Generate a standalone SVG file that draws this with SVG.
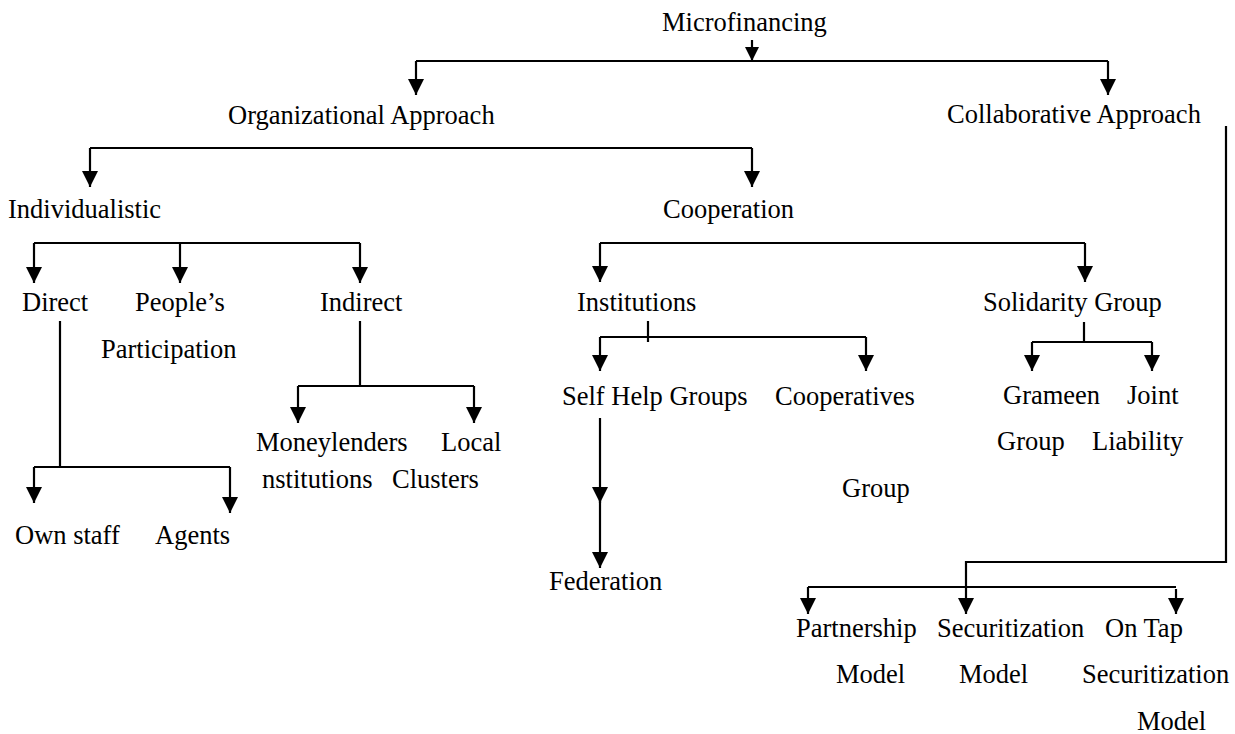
<svg xmlns="http://www.w3.org/2000/svg" width="1235" height="734" viewBox="0 0 1235 734">
<style>
text { font-family: "Liberation Serif", "Times New Roman", serif; font-size: 26.5px; fill: #000; }
.c { fill: none; stroke: #000; stroke-width: 2.2; }
.a { marker-end: url(#ah); }
.s { marker-end: url(#ahs); }
</style>
<defs>
<marker id="ah" markerUnits="userSpaceOnUse" markerWidth="16" markerHeight="16" refX="16" refY="8" orient="auto" viewBox="0 0 16 16">
<path d="M0,0 L16,8 L0,16 z" fill="#000"/>
</marker>
<marker id="ahs" markerUnits="userSpaceOnUse" markerWidth="14" markerHeight="14" refX="14" refY="7" orient="auto" viewBox="0 0 14 14">
<path d="M0,0 L14,7 L0,14 z" fill="#000"/>
</marker>
</defs>
<rect width="1235" height="734" fill="#fff"/>
<g id="connectors">
<path class="c s" d="M752,40 V61"/>
<path class="c" d="M416,61 H1108"/>
<path class="c a" d="M416,61 V95"/>
<path class="c a" d="M1108,61 V95"/>
<path class="c" d="M90,148 H752"/>
<path class="c a" d="M90,148 V187"/>
<path class="c a" d="M752,148 V187"/>
<path class="c" d="M34,243 H360"/>
<path class="c a" d="M34,243 V283"/>
<path class="c a" d="M180,243 V283"/>
<path class="c a" d="M360,243 V283"/>
<path class="c" d="M600,243 H1085"/>
<path class="c a" d="M600,243 V282"/>
<path class="c a" d="M1085,243 V282"/>
<path class="c" d="M60,321 V467 M34,467 H230"/>
<path class="c a" d="M34,467 V503"/>
<path class="c a" d="M230,467 V513"/>
<path class="c" d="M360,321 V386 M298,386 H474"/>
<path class="c a" d="M298,386 V423"/>
<path class="c a" d="M474,386 V423"/>
<path class="c" d="M648,321 V342 M600,337 H866"/>
<path class="c a" d="M600,337 V371"/>
<path class="c a" d="M866,337 V371"/>
<path class="c a" d="M600,418 V503"/>
<path class="c a" d="M600,500 V568"/>
<path class="c" d="M1084,322 V342 M1032,342 H1152"/>
<path class="c a" d="M1032,342 V371"/>
<path class="c a" d="M1152,342 V371"/>
<path class="c a" d="M1226,126 V562 H966 V614"/>
<path class="c" d="M808,587 H1176"/>
<path class="c a" d="M808,587 V614"/>
<path class="c a" d="M1176,589 V614"/>
</g>
<g id="n-microfinancing"><text x="662" y="31">Microfinancing</text></g>
<g id="n-organizational"><text x="228" y="124">Organizational Approach</text></g>
<g id="n-collaborative"><text x="947" y="123">Collaborative Approach</text></g>
<g id="n-individualistic"><text x="8" y="218">Individualistic</text></g>
<g id="n-cooperation"><text x="663" y="218">Cooperation</text></g>
<g id="n-direct"><text x="22" y="311">Direct</text></g>
<g id="n-peoples"><text x="135" y="311">People’s</text><text x="101" y="358">Participation</text></g>
<g id="n-indirect"><text x="320" y="311">Indirect</text></g>
<g id="n-institutions"><text x="577" y="311">Institutions</text></g>
<g id="n-solidarity"><text x="983" y="311">Solidarity Group</text></g>
<g id="n-moneylenders"><text x="256" y="451">Moneylenders</text><text x="262" y="488">nstitutions</text></g>
<g id="n-local"><text x="441" y="451">Local</text><text x="392" y="488">Clusters</text></g>
<g id="n-ownstaff"><text x="15" y="544">Own staff</text></g>
<g id="n-agents"><text x="155" y="544">Agents</text></g>
<g id="n-shg"><text x="562" y="405">Self Help Groups</text></g>
<g id="n-cooperatives"><text x="775" y="405">Cooperatives</text><text x="842" y="497">Group</text></g>
<g id="n-federation"><text x="549" y="590">Federation</text></g>
<g id="n-grameen"><text x="1003" y="404">Grameen</text><text x="997" y="450">Group</text></g>
<g id="n-joint"><text x="1127" y="404">Joint</text><text x="1092" y="450">Liability</text></g>
<g id="n-partnership"><text x="796" y="637">Partnership</text><text x="836" y="683">Model</text></g>
<g id="n-securitization"><text x="937" y="637">Securitization</text><text x="959" y="683">Model</text></g>
<g id="n-ontap"><text x="1105" y="637">On Tap</text><text x="1082" y="683">Securitization</text><text x="1137" y="730">Model</text></g>
</svg>
